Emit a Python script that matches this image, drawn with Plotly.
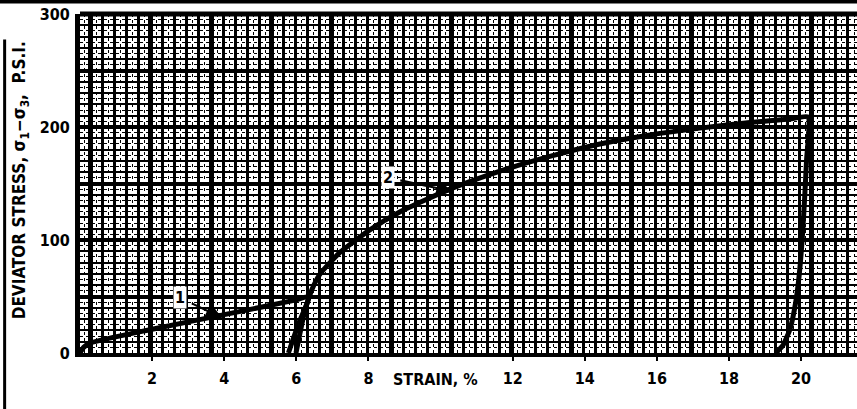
import plotly.graph_objects as go

# Test 1: loading up to about 6 % strain, then unloading back to zero stress
strain_1 = [0.0, 0.1, 0.3, 2.0, 4.0, 6.0, 6.35, 6.05, 5.78]
stress_1 = [0, 5, 9, 21, 34, 47, 50, 25, 0]

# Test 2: reloading from about 6 % strain up to about 20 %, then unloading
strain_2 = [5.99, 6.24, 6.43, 6.66, 7.21, 8.04, 8.88, 10.26, 11.65, 13.03, 14.42,
            15.81, 17.19, 18.58, 19.69, 20.19, 20.15, 20.05, 19.95, 19.85, 19.7, 19.5, 19.3]
stress_2 = [0, 38, 56, 70, 89, 109, 125, 145, 161, 174, 185,
            193, 199, 204, 207, 209, 170, 110, 70, 45, 22, 7, 0]

x_tick_vals = [2, 4, 6, 8, 12, 14, 16, 18, 20]
x_tick_text = ["2", "4", "6", "8", "12", "14", "16", "18", "20"]
y_tick_vals = [0, 100, 200, 300]
y_tick_text = ["0", "100", "200", "300"]

# curve labels: (text, label x, label y, arrow-head x, arrow-head y)
curve_labels = [("1", 2.77, 49, 3.94, 31), ("2", 8.54, 155, 10.34, 143)]

X_RANGE = [0, 21.55]
Y_RANGE = [0, 300]

FONT = "Liberation Sans Narrow, DejaVu Sans Condensed, Arial Narrow, sans-serif"
INK = "#000000"

fig = go.Figure()
for xs, ys in [(strain_1, stress_1), (strain_2, stress_2)]:
    fig.add_trace(go.Scatter(x=xs, y=ys, mode="lines",
                             line=dict(color=INK, width=5, shape="spline", smoothing=0.5),
                             showlegend=False, hoverinfo="skip"))

# graph-paper grid: regular cells on the labelled axes, heavy/dotted lines on overlays
fig.update_layout(
    width=857, height=409,
    margin=dict(l=80, r=0, t=14, b=56),
    paper_bgcolor="white", plot_bgcolor="white",
    font=dict(family=FONT, color=INK, size=16, weight="bold"),
    xaxis=dict(range=X_RANGE, tickmode="array", tickvals=x_tick_vals, ticktext=x_tick_text,
               showgrid=False, zeroline=False, showline=True, linecolor=INK, linewidth=4,
               ticks="outside", ticklen=4, tickwidth=2, tickcolor=INK, ticklabelstandoff=4,
               tickfont=dict(size=16, family=FONT, weight="bold"),
               minor=dict(tickmode="linear", tick0=0.3, dtick=1/3, showgrid=True,
                          gridcolor=INK, gridwidth=2.7, ticks="")),
    yaxis=dict(range=Y_RANGE, tickmode="array", tickvals=y_tick_vals, ticktext=y_tick_text,
               showgrid=False, zeroline=False, showline=True, linecolor=INK, linewidth=5,
               ticks="", ticklabelstandoff=2,
               tickfont=dict(size=16, family=FONT, weight="bold"),
               minor=dict(tickmode="linear", tick0=0, dtick=10, showgrid=True,
                          gridcolor=INK, gridwidth=2.2, ticks="")),
    xaxis2=dict(range=X_RANGE, overlaying="x", side="bottom", showticklabels=False,
                tickmode="linear", tick0=0.3, dtick=5/3, showgrid=True,
                gridcolor=INK, gridwidth=4.5, zeroline=False, ticks="",
                minor=dict(tickmode="linear", tick0=0.3 + 1/6, dtick=1/3, showgrid=True,
                           gridcolor=INK, gridwidth=1, griddash="dot", ticks="")),
    yaxis2=dict(range=Y_RANGE, overlaying="y", side="left", showticklabels=False,
                tickmode="linear", tick0=0, dtick=50, showgrid=True,
                gridcolor=INK, gridwidth=3.5, zeroline=False, ticks="",
                minor=dict(tickmode="linear", tick0=5, dtick=10, showgrid=True,
                           gridcolor=INK, gridwidth=1, griddash="dot", ticks="")),
)

# a hidden trace so the overlay axes get drawn
fig.add_trace(go.Scatter(x=[X_RANGE[0]], y=[Y_RANGE[0]], xaxis="x2", yaxis="y2",
                         mode="markers", marker=dict(opacity=0), showlegend=False,
                         hoverinfo="skip"))

# top frame of the plot and the sheet border
fig.add_shape(type="line", xref="paper", yref="paper", x0=0, x1=1, y0=1, y1=1,
              line=dict(color=INK, width=5))
fig.add_shape(type="rect", xref="paper", yref="paper", x0=-0.11, x1=1.01,
              y0=1.031, y1=1.05, fillcolor=INK, line=dict(width=0))
fig.add_shape(type="line", xref="paper", yref="paper", x0=-0.097, x1=-0.097,
              y0=0.925, y1=-0.2, line=dict(color=INK, width=3))

for text, lx, ly, hx, hy in curve_labels:
    fig.add_annotation(x=hx, y=hy, ax=lx, ay=ly, xref="x", yref="y", axref="x", ayref="y",
                       text=f"<b>{text}</b>", showarrow=True, arrowhead=2, arrowsize=1.5,
                       arrowwidth=2.2, arrowcolor=INK, standoff=0, startstandoff=6,
                       font=dict(size=16, family=FONT, color=INK),
                       bgcolor="white")

fig.add_annotation(x=9.85, y=-0.077, xref="x", yref="paper", text="<b>STRAIN, %</b>",
                   showarrow=False, font=dict(size=16, family=FONT, color=INK),
                   xanchor="center", yanchor="middle")

fig.add_annotation(x=-0.077, y=0.51, xref="paper", yref="paper", textangle=-90,
                   text="<b>DEVIATOR STRESS, σ<sub>1</sub>−σ<sub>3</sub>,  P.S.I.</b>",
                   showarrow=False, font=dict(size=17, family=FONT, color=INK),
                   xanchor="center", yanchor="middle")

fig.write_html("out.html")
